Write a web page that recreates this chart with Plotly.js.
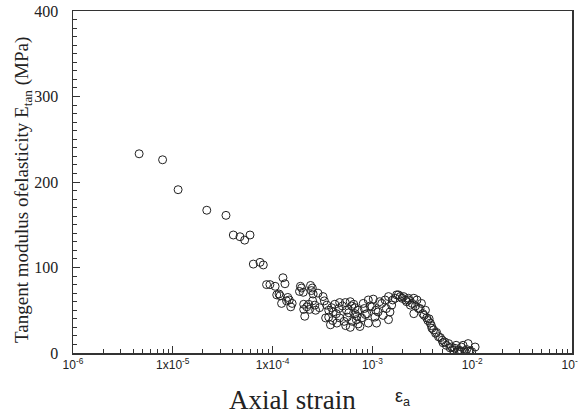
<!DOCTYPE html>
<html>
<head>
<meta charset="utf-8">
<script src="https://cdn.plot.ly/plotly-3.0.1.min.js"></script>
<style>html,body{margin:0;padding:0;background:#fff;}#chart{width:578px;height:416px;}</style>
</head>
<body>
<div id="chart"></div>
<script>
// Axial strain (x) and tangent modulus E_tan in MPa (y)
const strain = [
  4.6e-6, 7.9e-6, 1.13e-5, 2.19e-5, 3.41e-5, 4.04e-5, 4.71e-5, 5.25e-5, 5.94e-5,
  6.41e-5, 7.48e-5, 8.07e-5, 8.7e-5, 9.4e-5, 1.06e-4, 1.1e-4, 1.16e-4, 1.19e-4, 1.23e-4,
  1.27e-4, 1.33e-4, 1.38e-4, 1.42e-4, 1.47e-4, 1.52e-4, 1.57e-4, 1.86e-4, 1.9e-4, 1.95e-4,
  2.03e-4, 2.05e-4, 2.05e-4, 2.1e-4, 2.2e-4, 2.3e-4, 2.35e-4, 2.4e-4, 2.45e-4, 2.5e-4,
  2.52e-4, 2.55e-4, 2.65e-4, 2.7e-4, 2.85e-4, 2.95e-4, 3.2e-4, 3.3e-4, 3.4e-4, 3.5e-4,
  3.65e-4, 3.65e-4, 3.8e-4, 3.9e-4, 4.0e-4, 4.05e-4, 4.2e-4, 4.35e-4, 4.4e-4, 4.6e-4,
  4.7e-4, 4.7e-4, 5.0e-4, 5.2e-4, 5.35e-4, 5.4e-4, 5.5e-4, 5.6e-4, 5.8e-4, 6.0e-4,
  6.0e-4, 6.2e-4, 6.3e-4, 6.5e-4, 6.7e-4, 6.7e-4, 6.9e-4, 7.0e-4, 7.2e-4, 7.2e-4,
  7.5e-4, 7.8e-4, 8.1e-4, 8.3e-4, 8.5e-4, 8.8e-4, 9.1e-4, 9.1e-4, 9.5e-4, 9.9e-4,
  1.02e-3, 1.06e-3, 1.08e-3, 1.1e-3, 1.14e-3, 1.18e-3, 1.24e-3, 1.28e-3, 1.34e-3, 1.38e-3,
  1.45e-3, 1.45e-3, 1.5e-3, 1.56e-3, 1.6e-3, 1.69e-3, 1.75e-3, 1.82e-3, 1.9e-3, 1.98e-3,
  2.05e-3, 2.15e-3, 2.2e-3, 2.3e-3, 2.3e-3, 2.4e-3, 2.5e-3, 2.6e-3, 2.6e-3, 2.7e-3,
  2.8e-3, 2.9e-3, 3.0e-3, 3.1e-3, 3.2e-3, 3.3e-3, 3.4e-3, 3.5e-3, 3.6e-3, 3.7e-3,
  3.8e-3, 3.9e-3, 3.95e-3, 4.1e-3, 4.3e-3, 4.4e-3, 4.6e-3, 4.8e-3, 5.0e-3, 5.1e-3,
  5.3e-3, 5.5e-3, 5.8e-3, 6.0e-3, 6.2e-3, 6.5e-3, 6.7e-3, 6.9e-3, 7.1e-3, 7.3e-3,
  7.5e-3, 7.8e-3, 7.8e-3, 8.1e-3, 8.5e-3, 8.8e-3, 9.1e-3, 9.5e-3, 9.9e-3, 1.07e-2
];
const modulus = [
  233, 226, 191, 167, 161, 138, 136, 132, 138,
  104, 106, 103, 80, 80, 78, 68, 69, 67, 58,
  88, 81, 61, 65, 62, 54, 58, 72, 78, 76,
  71, 57, 51, 43, 54, 57, 51, 79, 73, 76,
  61, 69, 56, 50, 70, 53, 66, 61, 41, 56,
  42, 50, 33, 53, 38, 48, 57, 46, 35, 52,
  59, 41, 55, 37, 59, 32, 50, 42, 47, 60,
  30, 55, 37, 57, 53, 46, 39, 43, 50, 34,
  31, 41, 58, 52, 45, 46, 62, 35, 55, 54,
  63, 42, 50, 35, 48, 60, 58, 44, 62, 52,
  39, 66, 48, 56, 62, 64, 68, 68, 66, 64,
  66, 62, 60, 62, 64, 56, 58, 64, 46, 55,
  62, 52, 52, 58, 46, 44, 50, 41, 38, 40,
  35, 32, 29, 27, 23, 24, 19, 18, 15, 12,
  13, 9, 11, 6, 7, 3, 5.5, 9, 1, 3.5,
  1.5, 2.3, 7, 9, 1.5, 4, 11, 2, 1.5, 7
];
const xTickVals = [1e-6, 1e-5, 1e-4, 1e-3, 1e-2, 1e-1];
const xTickText = ['10<sup>-6</sup>', '1x10<sup>-5</sup>', '1x10<sup>-4</sup>', '10<sup>-3</sup>', '10<sup>-2</sup>', '10<sup>-1</sup>'];

const minorX = [];
for (let e = -6; e < -1; e++) {
  for (let m = 2; m <= 9; m++) minorX.push(m * Math.pow(10, e));
}

const serif = 'Liberation Serif, Times New Roman, serif';
const sans = 'Liberation Sans, Arial, sans-serif';
const axisColor = '#333';

const trace = {
  x: strain, y: modulus, type: 'scatter', mode: 'markers',
  marker: {symbol: 'circle-open', size: 8, color: '#222', line: {width: 1, color: '#222'}},
  hoverinfo: 'x+y'
};

const layout = {
  width: 578, height: 416,
  margin: {l: 73, r: 6, t: 11, b: 63},
  paper_bgcolor: '#fff', plot_bgcolor: '#fff',
  showlegend: false,
  xaxis: {
    type: 'log', range: [-6, -1],
    tickmode: 'array', tickvals: xTickVals, ticktext: xTickText,
    ticks: 'inside', ticklen: 7, tickwidth: 1, tickcolor: axisColor,
    ticklabeloverflow: 'allow',
    showline: true, linecolor: axisColor, linewidth: 1.5, mirror: true,
    showgrid: false, zeroline: false,
    tickfont: {family: sans, size: 12, color: '#222'},
    minor: {tickmode: 'array', tickvals: minorX, ticks: 'inside', ticklen: 4, tickwidth: 1, tickcolor: axisColor, showgrid: false}
  },
  yaxis: {
    range: [0, 400], tickmode: 'linear', tick0: 0, dtick: 100,
    ticks: 'inside', ticklen: 7, tickwidth: 1, tickcolor: axisColor,
    ticklabelstandoff: 10,
    showline: true, linecolor: axisColor, linewidth: 1.5, mirror: true,
    showgrid: false, zeroline: false,
    tickfont: {family: serif, size: 16, color: '#222'},
    minor: {dtick: 10, ticks: 'inside', ticklen: 4, tickwidth: 1, tickcolor: axisColor, showgrid: false}
  },
  annotations: [
    {text: 'Tangent modulus ofelasticity E<sub>tan</sub> (MPa)', textangle: -90,
     xref: 'paper', yref: 'paper', x: -0.1, y: 0.477, xanchor: 'center', yanchor: 'middle',
     showarrow: false, font: {family: serif, size: 19, color: '#222'}},
    {text: 'Axial strain', xref: 'paper', yref: 'paper', x: 0.439, y: -0.137,
     xanchor: 'center', yanchor: 'middle', showarrow: false,
     font: {family: serif, size: 27, color: '#222'}},
    {text: 'ε<sub>a</sub>', xref: 'paper', yref: 'paper', x: 0.66, y: -0.13,
     xanchor: 'center', yanchor: 'middle', showarrow: false,
     font: {family: sans, size: 18, color: '#222'}}
  ]
};

Plotly.newPlot('chart', [trace], layout, {displayModeBar: false, staticPlot: true});
</script>
</body>
</html>
